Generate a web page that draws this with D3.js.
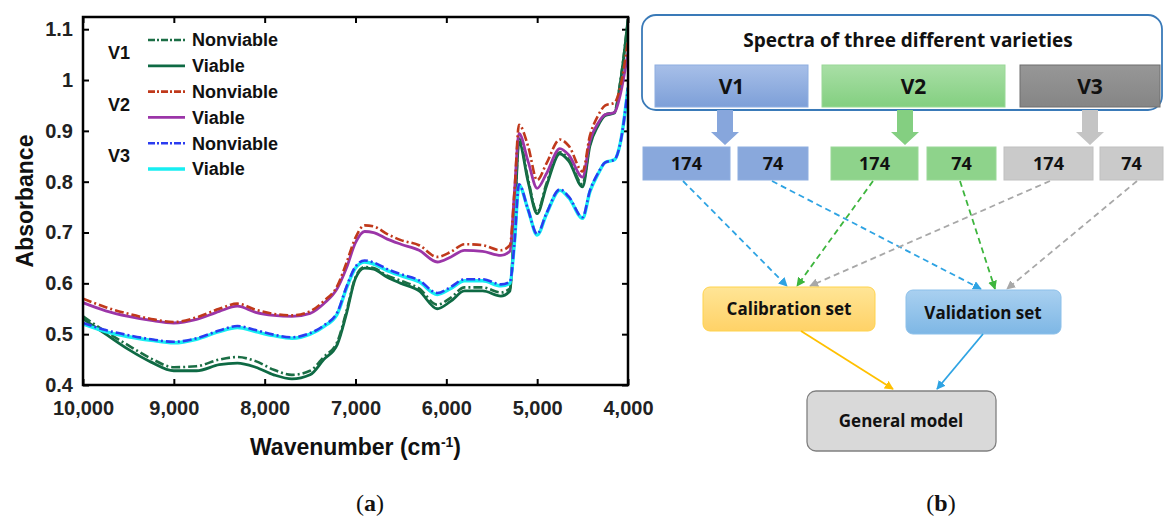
<!DOCTYPE html>
<html>
<head>
<meta charset="utf-8">
<script src="https://cdn.jsdelivr.net/npm/d3@7"></script>
<style>
    body { margin: 0; background: #fff; }
    svg { display: block; }
    .axis text { font-family: "Liberation Sans", Arial, sans-serif; font-weight: bold; font-size: 20px; fill: #222; }
    .axis line { stroke: #000; stroke-width: 2; }
    .label { font-family: "Liberation Sans", Arial, sans-serif; font-weight: bold; fill: #111; }
    .flow { font-family: "Open Sans", "Noto Sans", sans-serif; font-weight: bold; fill: #111; }
    .caption { font-family: "Liberation Serif", serif; font-size: 24px; fill: #111; }
</style>
</head>
<body>
<svg width="1164" height="519"></svg>
<script>
// wavenumbers (cm-1) sampled along every spectrum
const wavenumbers = [10000, 9750, 9500, 9250, 9000, 8750, 8500, 8300, 8100, 7900, 7700, 7500, 7350, 7200, 7100, 7000,
    6900, 6800, 6650, 6500, 6300, 6100, 5950, 5800, 5600, 5400, 5300, 5250, 5200, 5100, 5000, 4900, 4750, 4650,
    4500, 4420, 4330, 4250, 4150, 4080, 4000];

// absorbance of each mean spectrum
const v1Nonviable = [0.535, 0.505, 0.478, 0.452, 0.435, 0.437, 0.450, 0.455, 0.447, 0.430, 0.420, 0.428, 0.455, 0.485, 0.545, 0.612,
    0.632, 0.630, 0.615, 0.605, 0.590, 0.558, 0.572, 0.592, 0.592, 0.582, 0.590, 0.720, 0.885, 0.805, 0.740, 0.795, 0.858, 0.843,
    0.795, 0.873, 0.912, 0.932, 0.937, 1.003, 1.120];
const v1Viable = [0.530, 0.500, 0.470, 0.445, 0.428, 0.428, 0.440, 0.443, 0.435, 0.420, 0.412, 0.420, 0.450, 0.480, 0.540, 0.610,
    0.630, 0.628, 0.612, 0.600, 0.585, 0.550, 0.565, 0.585, 0.585, 0.575, 0.585, 0.720, 0.878, 0.800, 0.737, 0.790, 0.855, 0.840,
    0.790, 0.870, 0.910, 0.930, 0.935, 1.000, 1.120];
const v2Nonviable = [0.570, 0.553, 0.540, 0.530, 0.524, 0.533, 0.550, 0.560, 0.548, 0.540, 0.537, 0.545, 0.565, 0.595, 0.640, 0.690,
    0.714, 0.712, 0.697, 0.685, 0.675, 0.652, 0.662, 0.677, 0.675, 0.665, 0.675, 0.780, 0.912, 0.870, 0.803, 0.835, 0.883, 0.870,
    0.820, 0.890, 0.930, 0.950, 0.955, 0.990, 1.080];
const v2Viable = [0.562, 0.546, 0.535, 0.527, 0.522, 0.529, 0.545, 0.555, 0.543, 0.537, 0.535, 0.541, 0.560, 0.590, 0.630, 0.680,
    0.702, 0.700, 0.687, 0.677, 0.665, 0.642, 0.652, 0.665, 0.663, 0.655, 0.663, 0.780, 0.895, 0.840, 0.787, 0.815, 0.865, 0.852,
    0.809, 0.880, 0.915, 0.932, 0.936, 0.975, 1.055];
const v3Nonviable = [0.522, 0.508, 0.498, 0.490, 0.485, 0.492, 0.507, 0.516, 0.508, 0.499, 0.494, 0.502, 0.517, 0.543, 0.593, 0.633,
    0.645, 0.641, 0.628, 0.618, 0.606, 0.581, 0.593, 0.608, 0.608, 0.598, 0.603, 0.680, 0.795, 0.745, 0.697, 0.737, 0.785, 0.770,
    0.730, 0.782, 0.817, 0.838, 0.843, 0.880, 0.985];
const v3Viable = [0.520, 0.505, 0.495, 0.488, 0.483, 0.490, 0.505, 0.513, 0.505, 0.497, 0.492, 0.500, 0.515, 0.540, 0.590, 0.630,
    0.642, 0.638, 0.625, 0.615, 0.603, 0.578, 0.590, 0.605, 0.605, 0.595, 0.600, 0.680, 0.793, 0.745, 0.695, 0.735, 0.783, 0.768,
    0.728, 0.780, 0.815, 0.838, 0.843, 0.880, 0.985];

// legend / series names
const varieties = ['V1', 'V2', 'V3'];
const seriesNames = ['Nonviable', 'Viable', 'Nonviable', 'Viable', 'Nonviable', 'Viable'];
const seriesValues = [v1Nonviable, v1Viable, v2Nonviable, v2Viable, v3Nonviable, v3Viable];

// tick labels
const xTicks = [10000, 9000, 8000, 7000, 6000, 5000, 4000];
const yTicks = [0.4, 0.5, 0.6, 0.7, 0.8, 0.9, 1.0, 1.1];
const yTickLabels = ['0.4', '0.5', '0.6', '0.7', '0.8', '0.9', '1', '1.1'];

// flowchart texts
const flowTitle = 'Spectra of three different varieties';
const splitCounts = ['174', '74'];
const setNames = ['Calibration set', 'Validation set'];
const modelName = 'General model';

const svg = d3.select('svg');

//plot frame
const plotLeft = 83, plotRight = 628, plotTop = 17, plotBottom = 385;

const xScale = d3.scaleLinear()
    .domain([10000, 4000])
    .range([plotLeft, plotRight]);

const yScale = d3.scaleLinear()
    .domain([0.4, 1.124])
    .range([plotBottom, plotTop]);

//line styles for each spectrum
const lineStyles = [
    { color: '#1b6e45', dash: '9,3,2,3', width: 2.6 },
    { color: '#0e6a44', dash: null, width: 2.8 },
    { color: '#c0391b', dash: '9,3,2,3', width: 2.6 },
    { color: '#9b35a8', dash: null, width: 2.8 },
    { color: '#2b3cf0', dash: '9,3,2,3', width: 2.6 },
    { color: '#17eef2', dash: null, width: 3.4 }
];

//axes, ticks pointing inward on all four sides
svg.append('g')
    .attr('class', 'axis')
    .attr('transform', 'translate(0,' + plotBottom + ')')
    .call(d3.axisBottom(xScale).tickValues(xTicks).tickSize(-6).tickPadding(16).tickFormat(d3.format(',')));

svg.append('g')
    .attr('class', 'axis')
    .attr('transform', 'translate(0,' + plotTop + ')')
    .call(d3.axisTop(xScale).tickValues(xTicks).tickSize(-6).tickFormat(''));

svg.append('g')
    .attr('class', 'axis')
    .attr('transform', 'translate(' + plotLeft + ',0)')
    .call(d3.axisLeft(yScale).tickValues(yTicks).tickSize(-6).tickPadding(10).tickFormat((d, i) => yTickLabels[i]));

svg.append('g')
    .attr('class', 'axis')
    .attr('transform', 'translate(' + plotRight + ',0)')
    .call(d3.axisRight(yScale).tickValues(yTicks).tickSize(-6).tickFormat(''));

svg.selectAll('.axis .domain').remove();

//clip spectra to the frame
svg.append('clipPath')
    .attr('id', 'plot-clip')
    .append('rect')
    .attr('x', plotLeft).attr('y', plotTop)
    .attr('width', plotRight - plotLeft).attr('height', plotBottom - plotTop);

const line = d3.line()
    .x((d, i) => xScale(wavenumbers[i]))
    .y(d => yScale(d))
    .curve(d3.curveMonotoneX);

//draw viable first (wide solid), nonviable dashed on top
const drawOrder = [1, 0, 3, 2, 5, 4];
svg.append('g')
    .attr('clip-path', 'url(#plot-clip)')
    .selectAll('path')
    .data(drawOrder)
    .enter()
    .append('path')
    .attr('d', k => line(seriesValues[k]))
    .attr('fill', 'none')
    .attr('stroke', k => lineStyles[k].color)
    .attr('stroke-width', k => lineStyles[k].width)
    .attr('stroke-dasharray', k => lineStyles[k].dash)
    .attr('stroke-linejoin', 'round');

//frame
svg.append('rect')
    .attr('x', plotLeft).attr('y', plotTop)
    .attr('width', plotRight - plotLeft).attr('height', plotBottom - plotTop)
    .attr('fill', 'none')
    .attr('stroke', '#000')
    .attr('stroke-width', 2.5);

//axis titles
svg.append('text')
    .attr('class', 'label')
    .attr('x', (plotLeft + plotRight) / 2)
    .attr('y', 455)
    .attr('text-anchor', 'middle')
    .style('font-size', '23px')
    .text('Wavenumber (cm')
    .call(t => t.append('tspan').attr('dy', -8).style('font-size', '14px').text('-1'))
    .call(t => t.append('tspan').attr('dy', 8).text(')'));

svg.append('text')
    .attr('class', 'label')
    .attr('transform', 'translate(33,' + (plotTop + plotBottom) / 2 + ') rotate(-90)')
    .attr('text-anchor', 'middle')
    .style('font-size', '23px')
    .text('Absorbance');

//legend
const legendY0 = 40, legendStep = 25.8;
const legend = svg.append('g');

legend.selectAll('.v-label')
    .data(varieties)
    .enter()
    .append('text')
    .attr('class', 'label')
    .attr('x', 108)
    .attr('y', (d, i) => legendY0 + legendStep * (2 * i + 0.5))
    .attr('dy', '0.35em')
    .style('font-size', '18px')
    .text(d => d);

const legendRow = legend.selectAll('.row')
    .data(seriesNames)
    .enter()
    .append('g')
    .attr('transform', (d, i) => 'translate(0,' + (legendY0 + legendStep * i) + ')');

legendRow.append('line')
    .attr('x1', 148).attr('x2', 185)
    .attr('stroke', (d, i) => lineStyles[i].color)
    .attr('stroke-width', (d, i) => lineStyles[i].width)
    .attr('stroke-dasharray', (d, i) => lineStyles[i].dash ? '7,2,2,2' : null);

legendRow.append('text')
    .attr('class', 'label')
    .attr('x', 192)
    .attr('dy', '0.35em')
    .style('font-size', '18px')
    .text(d => d);

//panel captions
svg.append('text').attr('class', 'caption').attr('x', 370).attr('y', 511).attr('text-anchor', 'middle')
    .text('(').call(t => t.append('tspan').style('font-weight', 'bold').text('a')).call(t => t.append('tspan').text(')'));
svg.append('text').attr('class', 'caption').attr('x', 941).attr('y', 511).attr('text-anchor', 'middle')
    .text('(').call(t => t.append('tspan').style('font-weight', 'bold').text('b')).call(t => t.append('tspan').text(')'));

// ---------------- flowchart (b) ----------------
const defs = svg.append('defs');

function addGradient(id, c1, c2) {
    const g = defs.append('linearGradient').attr('id', id).attr('x1', 0).attr('x2', 0).attr('y1', 0).attr('y2', 1);
    g.append('stop').attr('offset', '0%').attr('stop-color', c1);
    g.append('stop').attr('offset', '100%').attr('stop-color', c2);
}
addGradient('g-blue', '#a7bfe8', '#7d9fd8');
addGradient('g-green', '#a9dfa6', '#83cf80');
addGradient('g-gray', '#979797', '#858585');
addGradient('g-cal', '#ffe596', '#ffd267');
addGradient('g-val', '#a9d0f0', '#7eb7e5');

function addMarker(id, color) {
    defs.append('marker')
        .attr('id', id)
        .attr('viewBox', '0 0 10 10')
        .attr('refX', 9).attr('refY', 5)
        .attr('markerWidth', 5).attr('markerHeight', 5)
        .attr('orient', 'auto')
        .append('path')
        .attr('d', 'M0,0 L10,5 L0,10 Z')
        .attr('fill', color);
}
addMarker('m-blue', '#2ea3e3');
addMarker('m-green', '#3db53d');
addMarker('m-gray', '#a8a8a8');
addMarker('m-yellow', '#ffc000');

const flow = svg.append('g');

//outer rounded box
flow.append('rect')
    .attr('x', 642).attr('y', 15).attr('width', 520).attr('height', 95).attr('rx', 14)
    .attr('fill', 'none').attr('stroke', '#3a7ab8').attr('stroke-width', 1.8);

flow.append('text')
    .attr('class', 'flow')
    .attr('x', 908).attr('y', 47)
    .attr('text-anchor', 'middle')
    .style('font-size', '19px')
    .text(flowTitle);

const varietyBoxes = [
    { x: 655, w: 153, fill: 'url(#g-blue)', stroke: '#8eaee0', arrow: '#87a6dc', small: '#89a8dc', smallStroke: '#8eaee0', cx: 725 },
    { x: 822, w: 183, fill: 'url(#g-green)', stroke: '#9ad897', arrow: '#84cf81', small: '#8ed38b', smallStroke: '#9ad897', cx: 905 },
    { x: 1020, w: 140, fill: 'url(#g-gray)', stroke: '#6e6e6e', arrow: '#c4c4c4', small: '#cacaca', smallStroke: '#c0c0c0', cx: 1090 }
];
const smallBoxes = [[643, 87], [738, 70], [831, 87], [927, 69], [1004, 89], [1100, 63]];

varietyBoxes.forEach(function (b, i) {
    flow.append('rect')
        .attr('x', b.x).attr('y', 65).attr('width', b.w).attr('height', 42)
        .attr('fill', b.fill).attr('stroke', b.stroke).attr('stroke-width', 1);
    flow.append('text')
        .attr('class', 'flow')
        .attr('x', b.x + b.w / 2).attr('y', 86).attr('dy', '0.36em')
        .attr('text-anchor', 'middle')
        .style('font-size', '21px')
        .text(varieties[i]);
    //block arrow down
    flow.append('path')
        .attr('d', 'M' + (b.cx - 8) + ',110 L' + (b.cx + 8) + ',110 L' + (b.cx + 8) + ',132 L' + (b.cx + 14) + ',132 L'
            + b.cx + ',145 L' + (b.cx - 14) + ',132 L' + (b.cx - 8) + ',132 Z')
        .attr('fill', b.arrow);
    //split boxes
    [0, 1].forEach(function (j) {
        const s = smallBoxes[i * 2 + j];
        flow.append('rect')
            .attr('x', s[0]).attr('y', 147).attr('width', s[1]).attr('height', 33)
            .attr('fill', b.small).attr('stroke', b.smallStroke).attr('stroke-width', 1);
        flow.append('text')
            .attr('class', 'flow')
            .attr('x', s[0] + s[1] / 2).attr('y', 164).attr('dy', '0.36em')
            .attr('text-anchor', 'middle')
            .style('font-size', '18px')
            .text(splitCounts[j]);
    });
});

//dashed links from split boxes to the sets
const links = [
    [683, 181, 787, 286, '#2ea3e3', 'm-blue'],
    [772, 181, 981, 289, '#2ea3e3', 'm-blue'],
    [873, 181, 797, 286, '#3db53d', 'm-green'],
    [960, 181, 995, 289, '#3db53d', 'm-green'],
    [1050, 181, 810, 286, '#a8a8a8', 'm-gray'],
    [1137, 181, 1007, 289, '#a8a8a8', 'm-gray']
];
flow.selectAll('.link')
    .data(links)
    .enter()
    .append('line')
    .attr('x1', d => d[0]).attr('y1', d => d[1])
    .attr('x2', d => d[2]).attr('y2', d => d[3])
    .attr('stroke', d => d[4]).attr('stroke-width', 1.8)
    .attr('stroke-dasharray', '6,4')
    .attr('marker-end', d => 'url(#' + d[5] + ')');

//calibration and validation boxes
flow.append('rect')
    .attr('x', 703).attr('y', 287).attr('width', 172).attr('height', 44).attr('rx', 7)
    .attr('fill', 'url(#g-cal)').attr('stroke', '#ffd34d').attr('stroke-width', 1);
flow.append('text')
    .attr('class', 'flow')
    .attr('x', 789).attr('y', 309).attr('dy', '0.36em')
    .attr('text-anchor', 'middle')
    .style('font-size', '17px')
    .text(setNames[0]);

flow.append('rect')
    .attr('x', 906).attr('y', 290).attr('width', 155).attr('height', 44).attr('rx', 7)
    .attr('fill', 'url(#g-val)').attr('stroke', '#8cc0ea').attr('stroke-width', 1);
flow.append('text')
    .attr('class', 'flow')
    .attr('x', 983).attr('y', 313).attr('dy', '0.36em')
    .attr('text-anchor', 'middle')
    .style('font-size', '17px')
    .text(setNames[1]);

//solid links to the model
flow.append('line')
    .attr('x1', 801).attr('y1', 331).attr('x2', 893).attr('y2', 389)
    .attr('stroke', '#ffc000').attr('stroke-width', 1.8).attr('marker-end', 'url(#m-yellow)');
flow.append('line')
    .attr('x1', 983).attr('y1', 334).attr('x2', 937).attr('y2', 389)
    .attr('stroke', '#2ea3e3').attr('stroke-width', 1.8).attr('marker-end', 'url(#m-blue)');

//general model box
flow.append('rect')
    .attr('x', 807).attr('y', 391).attr('width', 189).attr('height', 60).attr('rx', 9)
    .attr('fill', '#d9d9d9').attr('stroke', '#808080').attr('stroke-width', 1.3);
flow.append('text')
    .attr('class', 'flow')
    .attr('x', 901).attr('y', 421).attr('dy', '0.36em')
    .attr('text-anchor', 'middle')
    .style('font-size', '17px')
    .text(modelName);
</script>
</body>
</html>
